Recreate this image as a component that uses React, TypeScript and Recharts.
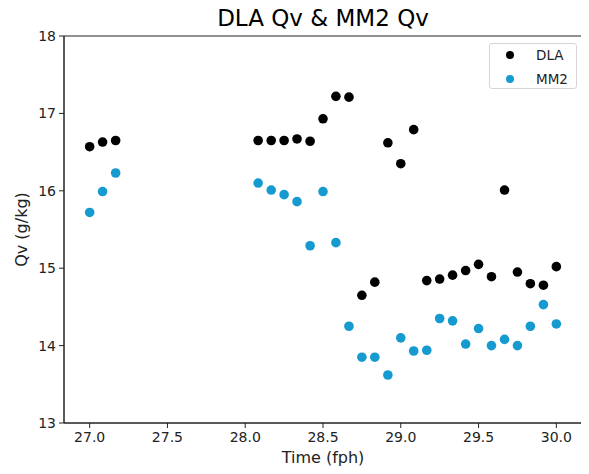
import React from "react";
import { ScatterChart, Scatter, XAxis, YAxis, ReferenceArea } from "recharts";

const times = [
  27.0, 27.083, 27.167,
  28.083, 28.167, 28.25, 28.333, 28.417, 28.5, 28.583, 28.667, 28.75, 28.833,
  28.917, 29.0, 29.083, 29.167, 29.25, 29.333, 29.417, 29.5, 29.583, 29.667,
  29.75, 29.833, 29.917, 30.0,
];
const dlaQv = [
  16.57, 16.63, 16.65,
  16.65, 16.65, 16.65, 16.67, 16.64, 16.93, 17.22, 17.21, 14.65, 14.82,
  16.62, 16.35, 16.79, 14.84, 14.86, 14.91, 14.97, 15.05, 14.89, 16.01,
  14.95, 14.80, 14.78, 15.02,
];
const mm2Qv = [
  15.72, 15.99, 16.23,
  16.10, 16.01, 15.95, 15.86, 15.29, 15.99, 15.33, 14.25, 13.85, 13.85,
  13.62, 14.10, 13.93, 13.94, 14.35, 14.32, 14.02, 14.22, 14.00, 14.08,
  14.00, 14.25, 14.53, 14.28,
];
const xTicks = [27.0, 27.5, 28.0, 28.5, 29.0, 29.5, 30.0];
const yTicks = [13, 14, 15, 16, 17, 18];
const xDomain = [26.835, 30.165];
const yDomain = [13, 18];

const dlaData = times.map((t, i) => ({ t, qv: dlaQv[i] }));
const mm2Data = times.map((t, i) => ({ t, qv: mm2Qv[i] }));

const FONT = "DejaVu Sans, sans-serif";
const BLUE = "#169bd0";
const INK = "#222";

const dot = (color: string) => (props: any) => (
  <circle cx={props.cx} cy={props.cy} r={4.8} fill={color} />
);

const legendItems = [
  { name: "DLA", color: "#000" },
  { name: "MM2", color: BLUE },
];

export default function App() {
  return (
    <div style={{ position: "relative", width: 581, height: 466, fontFamily: FONT }}>
      <div
        style={{
          position: "absolute",
          left: 56,
          width: 518,
          top: -3,
          textAlign: "center",
          fontSize: 23,
          lineHeight: "27px",
          color: "#000",
          fontFamily: FONT,
          whiteSpace: "nowrap",
        }}
      >
        DLA Qv &amp; MM2 Qv
      </div>
      <ScatterChart
        width={581}
        height={466}
        margin={{ top: 28, right: 7, bottom: 0, left: 0 }}
      >
        <XAxis
          type="number"
          dataKey="t"
          domain={xDomain}
          ticks={xTicks}
          allowDataOverflow
          tickFormatter={(v: number) => v.toFixed(1)}
          height={51}
          tickSize={5}
          tickMargin={4}
          stroke={INK}
          tick={{ fill: INK, fontSize: 14, fontFamily: FONT }}
          label={{
            value: "Time (fph)",
            position: "insideBottom",
            offset: 11,
            fill: INK,
            fontSize: 16,
            fontFamily: FONT,
          }}
        />
        <YAxis
          type="number"
          dataKey="qv"
          domain={yDomain}
          ticks={yTicks}
          allowDataOverflow
          width={56}
          tickSize={5}
          tickMargin={3}
          stroke={INK}
          tick={{ fill: INK, fontSize: 14, fontFamily: FONT }}
          label={{
            value: "Qv (g/kg)",
            angle: -90,
            position: "insideLeft",
            offset: 13,
            style: { textAnchor: "middle" },
            fill: INK,
            fontSize: 16,
            fontFamily: FONT,
          }}
        />
        <ReferenceArea
          x1={xDomain[0]}
          x2={xDomain[1]}
          y1={yDomain[0]}
          y2={yDomain[1]}
          fill="none"
          stroke={INK}
          strokeWidth={1}
          fillOpacity={0}
        />
        <Scatter name="DLA" data={dlaData} shape={dot("#000")} isAnimationActive={false} />
        <Scatter name="MM2" data={mm2Data} shape={dot(BLUE)} isAnimationActive={false} />
      </ScatterChart>
      <div
        style={{
          position: "absolute",
          left: 481,
          top: 35,
          width: 86,
          height: 44,
          border: "1px solid #d6d6d6",
          borderRadius: 3,
          background: "rgba(255,255,255,0.8)",
          fontSize: 13.5,
          color: INK,
          fontFamily: FONT,
        }}
      >
        {legendItems.map((e, i) => (
          <div
            key={e.name}
            style={{ position: "absolute", left: 0, top: 2 + i * 24, height: 18, width: 86 }}
          >
            <span
              style={{
                position: "absolute",
                left: 16,
                top: 5,
                width: 8,
                height: 8,
                borderRadius: "50%",
                background: e.color,
              }}
            />
            <span style={{ position: "absolute", left: 46, top: 0, lineHeight: "18px" }}>
              {e.name}
            </span>
          </div>
        ))}
      </div>
    </div>
  );
}
